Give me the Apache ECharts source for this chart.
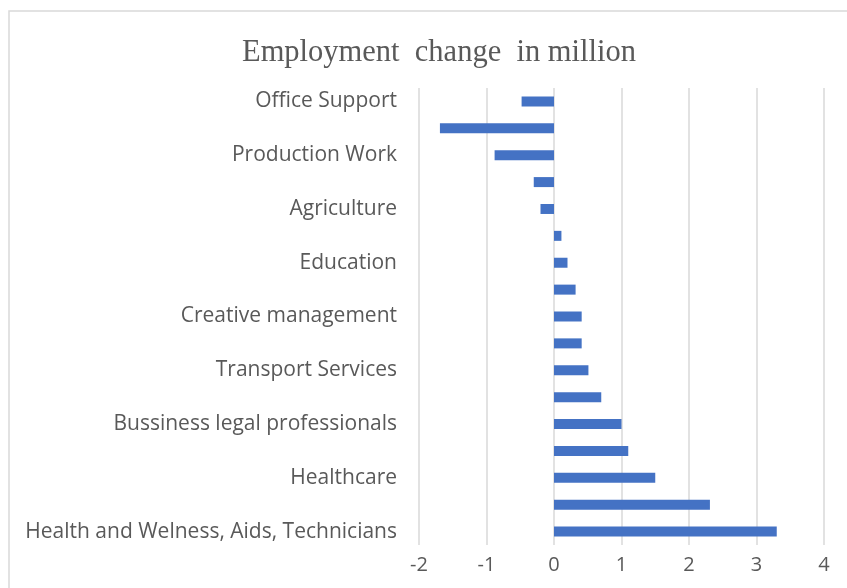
<!DOCTYPE html>
<html>
<head>
<meta charset="utf-8">
<script src="https://cdn.jsdelivr.net/npm/echarts@6/dist/echarts.min.js"></script>
<style>
  html, body { margin: 0; padding: 0; background: #fff; }
  #chart { width: 847px; height: 588px; }
</style>
</head>
<body>
<div id="chart"></div>
<script>
// Occupational groups, top to bottom; only every other name is labelled on the axis
const categories = [
  'Office Support',
  'Customer Service and Sales',
  'Production Work',
  'Food Services',
  'Agriculture',
  'Mechanical Installation and Repair',
  'Education',
  'Builders',
  'Creative management',
  'Property Maintenance',
  'Transport Services',
  'Community Services',
  'Bussiness legal professionals',
  'STEM Professionals',
  'Healthcare',
  'Managers',
  'Health and Welness, Aids, Technicians'
];

// Employment change, in million
const changeValues = [
  -0.48, -1.69, -0.88, -0.30, -0.20,
  0.11, 0.20, 0.32, 0.41, 0.41, 0.51,
  0.70, 1.00, 1.10, 1.50, 2.31, 3.30
];

const xTicks = { min: -2, max: 4, step: 1 };

const chart = echarts.init(document.getElementById('chart'), null, { renderer: 'canvas' });

chart.setOption({
  backgroundColor: '#ffffff',
  animation: false,
  title: {
    text: 'Employment  change  in million',
    left: 237,
    top: 32,
    textStyle: {
      fontFamily: 'Liberation Serif',
      fontWeight: 'normal',
      fontSize: 30.5,
      color: '#595959'
    }
  },
  graphic: [{
    type: 'rect',
    shape: { x: 9, y: 11, width: 900, height: 700 },
    style: { fill: 'none', stroke: '#d9d9d9', lineWidth: 1.5 },
    silent: true
  }],
  grid: { left: 419, right: 23, top: 88, bottom: 43 },
  xAxis: {
    type: 'value',
    min: xTicks.min,
    max: xTicks.max,
    interval: xTicks.step,
    axisLine: { show: false },
    axisTick: { show: false },
    splitLine: { show: true, lineStyle: { color: '#d9d9d9', width: 1.5 } },
    axisLabel: {
      color: '#595959',
      fontFamily: 'Open Sans',
      fontSize: 20,
      margin: 10
    }
  },
  yAxis: {
    type: 'category',
    inverse: true,
    data: categories,
    axisLine: { show: false },
    axisTick: { show: false },
    splitLine: { show: false },
    axisLabel: {
      interval: 1,
      color: '#595959',
      fontFamily: 'Open Sans',
      fontSize: 21,
      margin: 22
    }
  },
  series: [{
    type: 'bar',
    data: changeValues,
    barWidth: 10,
    itemStyle: { color: '#4472c4' }
  }]
});
</script>
</body>
</html>
